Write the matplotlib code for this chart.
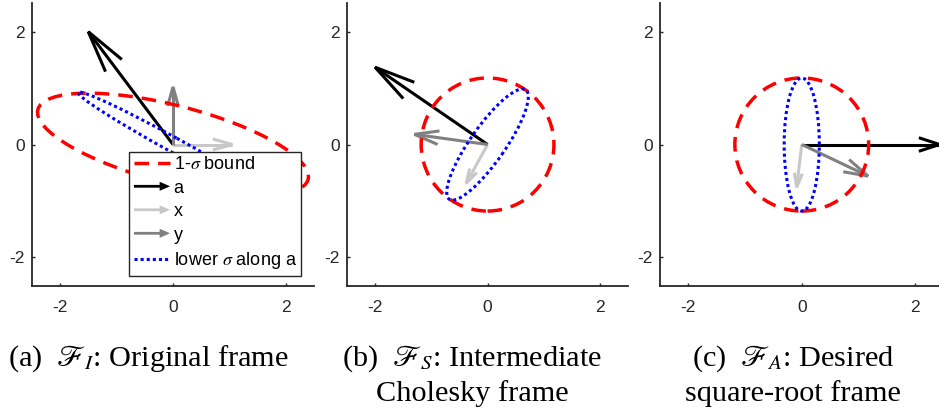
import matplotlib
matplotlib.use("Agg")
import matplotlib.pyplot as plt
from matplotlib.patches import Ellipse, FancyArrow
from matplotlib.legend_handler import HandlerPatch
from matplotlib.lines import Line2D

plt.rcParams['font.family'] = ['Liberation Sans', 'DejaVu Sans']
plt.rcParams['mathtext.fontset'] = 'stix'
plt.rcParams['axes.unicode_minus'] = False

# --- data (one entry per panel) ---
lims = [-2.5, 2.5]
ticks = [-2, 0, 2]

a_vec = [(-1.50, 2.00), (-2.00, 1.37), (2.43, 0.00)]
x_vec = [(1.05, 0.00), (-0.38, -0.69), (-0.09, -0.76)]
y_vec = [(0.00, 1.02), (-1.30, 0.18), (1.17, -0.56)]

# 1-sigma bound ellipse: semi-major, semi-minor, angle (deg)
bound_ell = [(2.47, 0.69, -14.5), (1.18, 1.18, 0.0), (1.18, 1.18, 0.0)]
# lower sigma along a
lower_ell = [(1.92, 0.13, 151.2), (1.185, 0.31, 55.0), (1.18, 0.31, 90.0)]

legend_labels = ['1-$\\sigma$ bound', 'a', 'x', 'y', 'lower $\\sigma$ along a']

captions = [["(a)  $\\mathscr{F}_I$: Original frame"],
            ["(b)  $\\mathscr{F}_S$: Intermediate", "Cholesky frame"],
            ["(c)  $\\mathscr{F}_A$: Desired", "square-root frame"]]

RED = '#ff0000'
BLUE = '#0000ff'
BLACK = '#000000'
LGRAY = '#c8c8c8'
DGRAY = '#808080'
AXC = '#262626'

W, H = 939, 415
ax_left_px = [31.75, 346.9, 660.0]
ax_w_px = [282.5, 281.3, 283.5]
ax_top_px = 3.5
ax_h_px = 282.0
cap_x_px = [148, 472, 793]
cap_base_px = [366, 401]


def draw_arrow(ax, vec, color, frac=0.3, spread=0.26, lw=2.2):
    u, v = vec
    ax.plot([0, u], [0, v], color=color, lw=lw, solid_capstyle='butt', zorder=2)
    # open V head, like MATLAB quiver
    hx, hy = -frac * u, -frac * v
    px, py = -hy * spread, hx * spread
    ax.plot([u + hx + px, u, u + hx - px], [v + hy + py, v, v + hy - py],
            color=color, lw=lw, solid_joinstyle='miter', solid_capstyle='butt', zorder=2)


def legend_arrow(legend, orig_handle, xdescent, ydescent, width, height, fontsize):
    return FancyArrow(-xdescent, height / 2 - ydescent, width, 0, width=2.0,
                      head_width=6.5, head_length=7.5, length_includes_head=True)


fig = plt.figure(figsize=(W / 100, H / 100), dpi=100)

for i in range(3):
    rect = [ax_left_px[i] / W, 1 - (ax_top_px + ax_h_px) / H, ax_w_px[i] / W, ax_h_px / H]
    ax = fig.add_axes(rect)
    ax.set_xlim(lims)
    ax.set_ylim(lims)
    ax.set_xticks(ticks)
    ax.set_yticks(ticks)
    for s in ['top', 'right']:
        ax.spines[s].set_visible(False)
    for s in ['left', 'bottom']:
        ax.spines[s].set_color(AXC)
        ax.spines[s].set_linewidth(1.3)
    ax.tick_params(direction='in', length=2.5, width=1.0, color=AXC,
                   labelcolor=AXC, labelsize=12.5)
    ax.tick_params(axis='x', pad=10.5)
    ax.tick_params(axis='y', pad=5)

    # arrows
    head = (0.15, 0.33) if i == 2 else (0.3, 0.24)
    draw_arrow(ax, a_vec[i], BLACK, frac=head[0], spread=head[1])
    draw_arrow(ax, x_vec[i], LGRAY, frac=0.33, spread=0.28)
    draw_arrow(ax, y_vec[i], DGRAY, frac=0.33, spread=0.28)

    # ellipses
    ba, bb, bang = bound_ell[i]
    ax.add_patch(Ellipse((0, 0), 2 * ba, 2 * bb, angle=bang, fill=False,
                         edgecolor=RED, lw=2.5, linestyle=(0, (4.2, 2.6)), zorder=3))
    la, lb, lang = lower_ell[i]
    ax.add_patch(Ellipse((0, 0), 2 * la, 2 * lb, angle=lang, fill=False,
                         edgecolor=BLUE, lw=2.2, linestyle=(0, (1.0, 1.0)),
                         capstyle='butt', zorder=4))

    if i == 0:
        handles = [Line2D([], [], color=RED, lw=2.5, linestyle=(0, (4.2, 2.6))),
                   FancyArrow(0, 0, 1, 0, color=BLACK, lw=0),
                   FancyArrow(0, 0, 1, 0, color=LGRAY, lw=0),
                   FancyArrow(0, 0, 1, 0, color=DGRAY, lw=0),
                   Line2D([], [], color=BLUE, lw=2.2, linestyle=(0, (1.0, 1.0)),
                          dash_capstyle='butt')]
        leg = ax.legend(handles, legend_labels, loc='lower right',
                        bbox_to_anchor=(0.954, 0.035), borderaxespad=0,
                        fontsize=13, handlelength=2.0, handletextpad=0.2,
                        borderpad=0.25, labelspacing=0.36, fancybox=False,
                        framealpha=1, edgecolor=AXC,
                        handler_map={FancyArrow: HandlerPatch(patch_func=legend_arrow)})
        leg.get_frame().set_linewidth(1.0)
        leg.set_zorder(10)

    for j, line in enumerate(captions[i]):
        fig.text(cap_x_px[i] / W, 1 - cap_base_px[j] / H, line, ha='center',
                 va='baseline', family='Liberation Serif', fontsize=21.8, color='black')

fig.savefig('out.png', dpi=100)
